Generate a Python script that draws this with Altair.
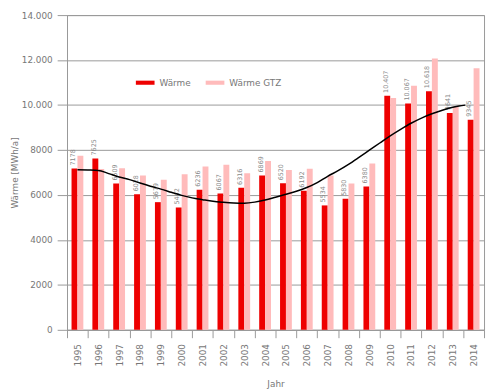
import altair as alt
import pandas as pd

years = ["1995", "1996", "1997", "1998", "1999", "2000", "2001", "2002", "2003", "2004",
         "2005", "2006", "2007", "2008", "2009", "2010", "2011", "2012", "2013", "2014"]
waerme = [7178, 7625, 6509, 6028, 5679, 5442, 6236, 6067, 6316, 6869,
          6520, 6192, 5534, 5830, 6380, 10407, 10067, 10618, 9641, 9345]
gtz = [7740, 7150, 7190, 6865, 6680, 6920, 7270, 7340, 6965, 7510,
       7110, 7165, 6865, 6505, 7400, 10310, 10857, 12064, 9922, 11633]

# trend line (position in years, value)
trend_pos = [1995.0, 1995.5, 1996.0, 1996.5, 1997.0, 1997.5, 1998.0, 1998.5, 1999.0, 1999.5,
             2000.0, 2000.5, 2001.0, 2001.5, 2002.0, 2002.5, 2003.0, 2003.5, 2004.0, 2004.5,
             2005.0, 2005.5, 2006.0, 2006.5, 2007.0, 2007.5, 2008.0, 2008.5, 2009.0, 2009.5,
             2010.0, 2010.5, 2011.0, 2011.5, 2012.0, 2012.5, 2013.0, 2013.3, 2013.6]
trend_val = [7120, 7110, 7090, 6950, 6800, 6680, 6530, 6390, 6260, 6120,
             5980, 5870, 5790, 5717, 5675, 5645, 5635, 5680, 5775, 5900,
             6030, 6165, 6330, 6550, 6830, 7080, 7360, 7670, 7990, 8310,
             8630, 8920, 9190, 9420, 9610, 9770, 9900, 9960, 9995]

series = ["Wärme", "Wärme GTZ"]
colors = ["#ee0000", "#ffbbbb"]

rows = []
for yr, a, b in zip(years, waerme, gtz):
    rows.append({"Jahr": yr, "Serie": series[0], "Wert": a})
    rows.append({"Jahr": yr, "Serie": series[1], "Wert": b})
df = pd.DataFrame(rows)
trend = pd.DataFrame({"pos": trend_pos, "Wert": trend_val})

FONT = "DejaVu Sans"
GRAY = "#777777"
LINEGRAY = "#999999"

fmt_expr = "datum.value >= 10000 ? replace(format(datum.value, ',.0f'), ',', '.') : format(datum.value, '.0f')"

x_enc = alt.X(
    "Jahr:N", sort=years,
    scale=alt.Scale(paddingInner=0, paddingOuter=0),
    axis=alt.Axis(title="Jahr", labelAngle=-90, tickBand="extent", tickSize=8,
                  labelPadding=6, grid=False, domainColor=LINEGRAY, tickColor=LINEGRAY,
                  titlePadding=14, labelFont=FONT, labelFontSize=9, labelColor=GRAY,
                  titleFont=FONT, titleFontSize=9, titleColor=GRAY, titleFontWeight="normal"),
)
y_enc = alt.Y(
    "Wert:Q",
    scale=alt.Scale(domain=[0, 14000], nice=False),
    axis=alt.Axis(title="Wärme [MWh/a]", values=list(range(0, 14001, 2000)), labelExpr=fmt_expr,
                  tickSize=10, labelPadding=5, gridColor=LINEGRAY, domainColor=LINEGRAY,
                  tickColor=LINEGRAY, labelFont=FONT, labelFontSize=9, labelColor=GRAY,
                  titleFont=FONT, titleFontSize=9, titleColor=GRAY, titleFontWeight="normal",
                  titlePadding=2),
)

bars = alt.Chart(df).mark_bar().encode(
    x=x_enc,
    y=y_enc,
    xOffset=alt.XOffset("Serie:N", sort=series, scale=alt.Scale(paddingInner=0, paddingOuter=0.767)),
    color=alt.Color(
        "Serie:N", sort=series,
        scale=alt.Scale(domain=series, range=colors),
        legend=alt.Legend(orient="none", legendX=70, legendY=59, direction="horizontal",
                          title=None, symbolType="M-1,-0.22L1,-0.22L1,0.22L-1,0.22Z",
                          symbolSize=361, symbolStrokeWidth=0, labelFont=FONT,
                          labelFontSize=9, labelColor=GRAY, columnPadding=15, labelOffset=5),
    ),
)

labels = alt.Chart(df).transform_filter(
    alt.datum.Serie == "Wärme"
).transform_calculate(
    lbl="datum.Wert >= 10000 ? replace(format(datum.Wert, ',.0f'), ',', '.') : format(datum.Wert, '.0f')"
).mark_text(
    angle=270, align="left", baseline="middle", dx=3, dy=-1.5,
    fontSize=6.5, color="#888888", font=FONT,
).encode(
    x=alt.X("Jahr:N", sort=years),
    y=alt.Y("Wert:Q"),
    xOffset=alt.XOffset("Serie:N", sort=series),
    text="lbl:N",
)

bar_layer = alt.layer(bars, labels)

line = alt.Chart(trend).mark_line(color="black", strokeWidth=1.5, interpolate="monotone").encode(
    x=alt.X("pos:Q", scale=alt.Scale(domain=[1994.5, 2014.5], nice=False, zero=False), axis=None),
    y=alt.Y("Wert:Q"),
)

chart = alt.layer(bar_layer, line).resolve_scale(x="independent").properties(
    width=424, height=320,
    padding={"left": 60, "top": 4, "right": 2, "bottom": 60},
    autosize=alt.AutoSizeParams(type="none"),
).configure_view(stroke=LINEGRAY, strokeWidth=1)

chart.save("out.html", embed_options={"renderer": "svg", "actions": False})
